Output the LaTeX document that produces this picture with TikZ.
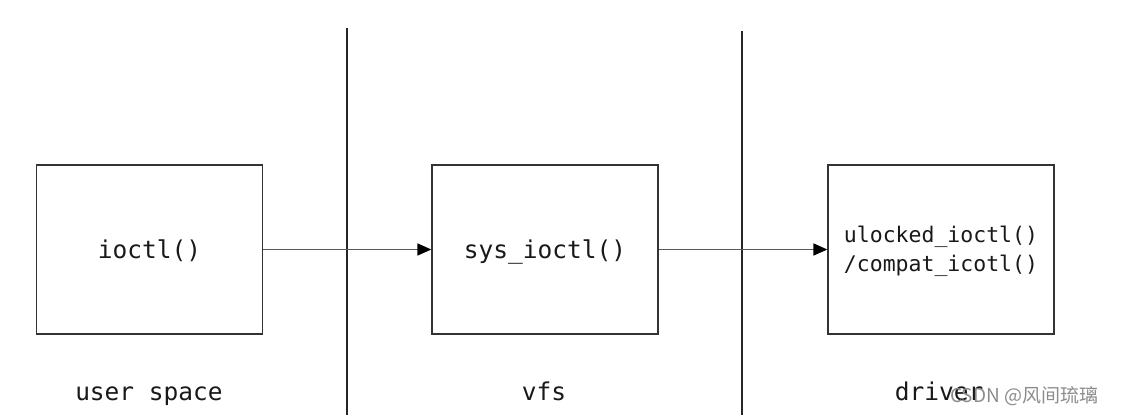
\documentclass[tikz,border=0pt]{standalone}
\usepackage{fontspec}
\setmonofont{DejaVu Sans Mono}
\newfontfamily\cjk{Noto Sans CJK SC}
\usetikzlibrary{arrows.meta}
\begin{document}
\begin{tikzpicture}[x=1pt,y=-1pt,
  box/.style={draw=black!80,line width=1.3pt,minimum width=226pt,minimum height=169pt,inner sep=0pt,font=\ttfamily\fontsize{24.5}{29}\selectfont,align=center,text=black!90},
  divider/.style={line width=2.8pt,black!85},
  link/.style={draw=black!65,line width=1.6pt,-{Triangle[length=14pt,width=12pt,color=black]}},
  lab/.style={font=\ttfamily\fontsize{24.5}{29}\selectfont,text=black!90,anchor=base}]
\useasboundingbox[fill=white] (0,0) rectangle (1124,415);
\coordinate (d1t) at (347,28); \coordinate (d1b) at (347,415);
\coordinate (d2t) at (742,31); \coordinate (d2b) at (742,415);
\draw[divider] (d1t) -- (d1b);
\draw[divider] (d2t) -- (d2b);
\node[box] (a) at (149.5,249.5) {\raisebox{-8.5pt}[0pt][0pt]{ioctl()}};
\node[box] (b) at (545,249.5) {\raisebox{-8.5pt}[0pt][0pt]{sys\_ioctl()}};
\node[box,font=\ttfamily\fontsize{21.5}{29}\selectfont] (c) at (941,249.5) {\raisebox{-7pt}[0pt][0pt]{ulocked\_ioctl()}\\\raisebox{-7pt}[0pt][0pt]{/compat\_icotl()}};
\draw[link] (a.east) -- (b.west);
\draw[link] (b.east) -- (c.west);
\node[lab] (l1) at (149,400) {user space};
\node[lab] (l2) at (544,400) {vfs};
\node[lab] (l3) at (939,400) {driver};
\node[font=\cjk\fontsize{19}{22}\selectfont,text=black!45,anchor=west,inner sep=0pt] (wm) at (950,396) {CSDN @风间琉璃};
\end{tikzpicture}
\end{document}
